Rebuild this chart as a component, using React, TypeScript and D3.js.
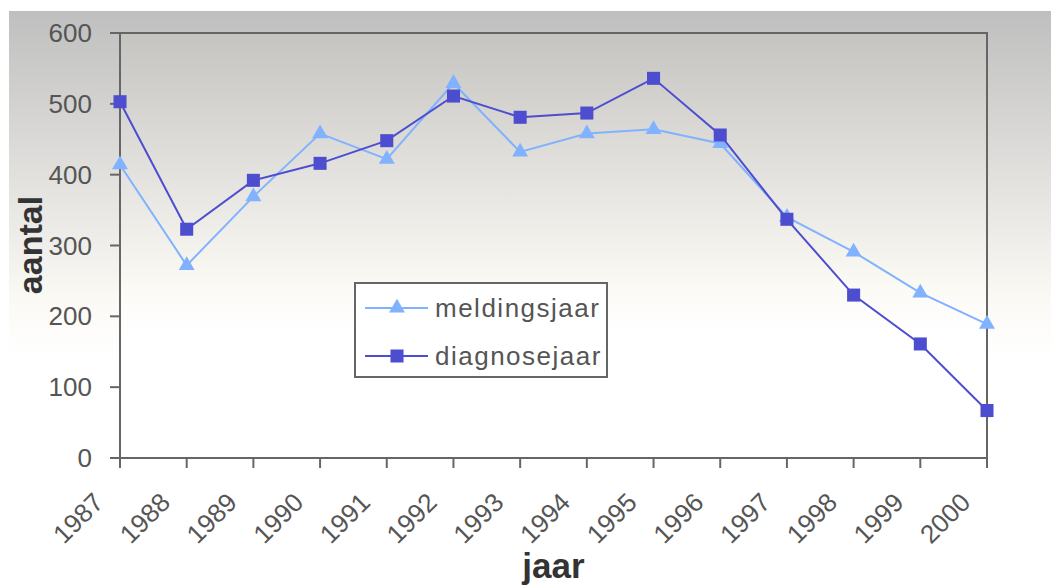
import * as d3 from 'd3';

const WIDTH = 1051;
const HEIGHT = 585;
const PLOT = { left: 120, right: 987, top: 33, bottom: 458 };

const years = ['1987', '1988', '1989', '1990', '1991', '1992', '1993', '1994', '1995', '1996', '1997', '1998', '1999', '2000'];
const meldingsjaar = [414, 272, 369, 458, 422, 529, 432, 458, 464, 444, 340, 291, 233, 189];
const diagnosejaar = [503, 323, 392, 416, 448, 511, 481, 487, 536, 456, 337, 230, 161, 67];
const yTicks = [0, 100, 200, 300, 400, 500, 600];

const LIGHT = '#80b2ff';
const DARK = '#4d4dcf';
const AXIS = '#666666';
const FONT = '"Liberation Sans", Arial, sans-serif';

const series = [
    { name: 'meldingsjaar', values: meldingsjaar, color: LIGHT, shape: d3.symbolTriangle, size: 110 },
    { name: 'diagnosejaar', values: diagnosejaar, color: DARK, shape: d3.symbolSquare, size: 170 },
];

export default function App() {
    const x = d3.scalePoint<string>().domain(years).range([PLOT.left, PLOT.right]);
    const y = d3.scaleLinear().domain([0, 600]).range([PLOT.bottom, PLOT.top]);

    const line = d3.line<number>()
        .x((_, i) => x(years[i]) as number)
        .y((d) => y(d));

    return (
        <svg width={WIDTH} height={HEIGHT} style={{ position: 'fixed', left: 0, top: 0, background: '#fff' }}>
            <defs>
                <linearGradient id="chartBg" x1="0" y1="0" x2="0" y2="1">
                    <stop offset="0" stopColor="#bfbfbf" />
                    <stop offset="0.5" stopColor="#fbf9f4" />
                    <stop offset="0.6" stopColor="#ffffff" />
                    <stop offset="1" stopColor="#ffffff" />
                </linearGradient>
                <linearGradient id="plotBg" x1="0" y1="0" x2="0" y2="1">
                    <stop offset="0" stopColor="#c6c4c1" />
                    <stop offset="0.6" stopColor="#fcfaf5" />
                    <stop offset="0.7" stopColor="#ffffff" />
                    <stop offset="1" stopColor="#ffffff" />
                </linearGradient>
            </defs>

            {/* chart area */}
            <rect x={9} y={11} width={WIDTH - 9} height={HEIGHT - 11} fill="url(#chartBg)" />
            {/* plot area */}
            <rect x={PLOT.left} y={PLOT.top} width={PLOT.right - PLOT.left} height={PLOT.bottom - PLOT.top} fill="url(#plotBg)" />
            <path d={`M${PLOT.left},${PLOT.top}H${PLOT.right}V${PLOT.bottom}`} fill="none" stroke={AXIS} strokeWidth={2} />

            {/* y axis */}
            <line x1={PLOT.left} x2={PLOT.left} y1={PLOT.top} y2={PLOT.bottom} stroke={AXIS} strokeWidth={2} />
            {yTicks.map((t) => (
                <g key={t}>
                    <line x1={PLOT.left - 10} x2={PLOT.left} y1={y(t)} y2={y(t)} stroke={AXIS} strokeWidth={2} />
                    <text x={92} y={y(t)} dy="0.35em" textAnchor="end" fontFamily={FONT} fontSize={26} fill="#555">{t}</text>
                </g>
            ))}

            {/* x axis */}
            <line x1={PLOT.left} x2={PLOT.right} y1={PLOT.bottom} y2={PLOT.bottom} stroke={AXIS} strokeWidth={2} />
            {years.map((yr) => (
                <g key={yr}>
                    <line x1={x(yr)} x2={x(yr)} y1={PLOT.bottom} y2={PLOT.bottom + 10} stroke={AXIS} strokeWidth={2} />
                    <text transform={`translate(${(x(yr) as number) - 15},${504}) rotate(-45)`} textAnchor="end"
                        fontFamily={FONT} fontSize={26} fill="#555">{yr}</text>
                </g>
            ))}

            {/* series */}
            {series.map((s) => (
                <g key={s.name}>
                    <path d={line(s.values) as string} fill="none" stroke={s.color} strokeWidth={2} />
                    {s.values.map((v, i) => (
                        <path key={i} transform={`translate(${x(years[i])},${y(v)})`}
                            d={d3.symbol().type(s.shape).size(s.size)() as string} fill={s.color} />
                    ))}
                </g>
            ))}

            {/* axis titles */}
            <text transform={`translate(42,245) rotate(-90)`} textAnchor="middle" fontFamily={FONT} fontWeight="bold"
                fontSize={34} fill="#333">aantal</text>
            <text x={(PLOT.left + PLOT.right) / 2} y={578} textAnchor="middle" fontFamily={FONT} fontWeight="bold"
                fontSize={35} fill="#333">jaar</text>

            {/* legend */}
            <g>
                <rect x={355} y={283} width={252} height={94} fill="#fff" stroke={AXIS} strokeWidth={2} />
                {series.map((s, i) => {
                    const ly = 308 + i * 48;
                    return (
                        <g key={s.name}>
                            <line x1={365} x2={428} y1={ly} y2={ly} stroke={s.color} strokeWidth={2} />
                            <path transform={`translate(397,${ly})`} d={d3.symbol().type(s.shape).size(s.size)() as string} fill={s.color} />
                            <text x={435} y={ly} dy="0.35em" fontFamily={FONT} fontSize={26} letterSpacing={1.5} fill="#555">{s.name}</text>
                        </g>
                    );
                })}
            </g>
        </svg>
    );
}
